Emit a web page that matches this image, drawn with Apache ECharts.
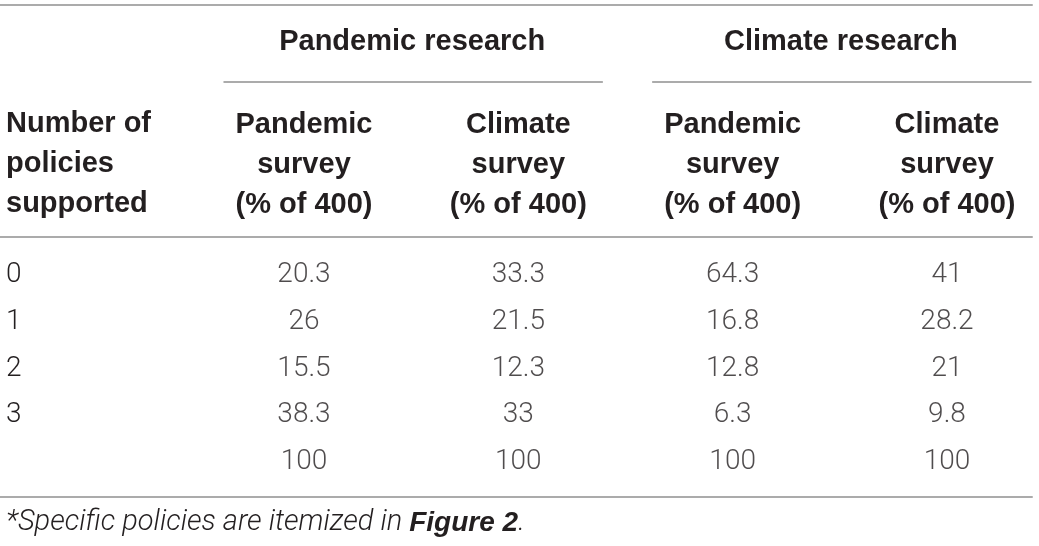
<!DOCTYPE html>
<html>
<head>
<meta charset="utf-8">
<script src="https://cdn.jsdelivr.net/npm/echarts@6/dist/echarts.min.js"></script>
<style>
html, body { margin: 0; padding: 0; background: #fff; }
#main { width: 1039px; height: 546px; }
</style>
</head>
<body>
<div id="main"></div>
<script>
// table contents
var rowLabels = ['0', '1', '2', '3', ''];
var stubHead = 'Number of\npolicies\nsupported';
var groupHeads = ['Pandemic research', 'Climate research'];
var colHeads = [
  'Pandemic\nsurvey\n(% of 400)',
  'Climate\nsurvey\n(% of 400)',
  'Pandemic\nsurvey\n(% of 400)',
  'Climate\nsurvey\n(% of 400)'
];
var pandemicResPandemicSurvey = [20.3, 26, 15.5, 38.3, 100];
var pandemicResClimateSurvey = [33.3, 21.5, 12.3, 33, 100];
var climateResPandemicSurvey = [64.3, 16.8, 12.8, 6.3, 100];
var climateResClimateSurvey = [41, 28.2, 21, 9.8, 100];
var footText = '*Specific policies are itemized in ';
var footRef = 'Figure 2';

var columns = [pandemicResPandemicSurvey, pandemicResClimateSurvey, climateResPandemicSurvey, climateResClimateSurvey];

var ink = '#231f20';
var ruleColor = '#8f8f8f';
var boldFont = 'Liberation Sans';
var lightFont = 'Roboto';

var toCells = function (col, c) {
  var res = [];
  for (var i = 0; i < col.length; i++) {
    res.push([c, i, col[i]]);
  }
  return res;
};

var series = [];
for (var c = 0; c < columns.length; c++) {
  series.push({
    type: 'scatter',
    silent: true,
    symbolSize: 1,
    itemStyle: { color: 'transparent' },
    label: {
      show: true,
      position: 'inside',
      formatter: function (p) { return String(p.value[2]); },
      fontFamily: lightFont,
      fontWeight: 300,
      fontSize: 28,
      color: ink
    },
    data: toCells(columns[c], c)
  });
}

var chart = echarts.init(document.getElementById('main'));

chart.setOption({
  animation: false,
  backgroundColor: '#fff',
  grid: { left: 304, right: 92, top: 275, bottom: 84, outerBoundsMode: 'none' },
  xAxis: {
    type: 'value',
    min: 0,
    max: 3,
    interval: 1,
    position: 'top',
    axisLine: { show: false },
    axisTick: { show: false },
    splitLine: { show: false },
    axisLabel: {
      showMinLabel: true,
      showMaxLabel: true,
      hideOverlap: false,
      margin: 50,
      fontFamily: boldFont,
      fontWeight: 'bold',
      fontSize: 29,
      lineHeight: 40,
      color: ink,
      formatter: function (v) { return colHeads[Math.round(v)] || ''; }
    }
  },
  yAxis: {
    type: 'value',
    min: 0,
    max: 4,
    interval: 1,
    inverse: true,
    axisLine: { show: false },
    axisTick: { show: false },
    splitLine: { show: false },
    axisLabel: {
      showMinLabel: true,
      showMaxLabel: true,
      align: 'left',
      margin: 298,
      fontFamily: lightFont,
      fontWeight: 300,
      fontSize: 28,
      color: ink,
      formatter: function (v) { return rowLabels[Math.round(v)] || ''; }
    }
  },
  series: series
});

// headers and rules, placed from the axis scale
var px = function (v) { return chart.convertToPixel({ xAxisIndex: 0 }, v); };
var step = px(1) - px(0);
var half = step * 0.885;
var rightEdge = px(3) + step * 0.4;

var rule = function (x1, x2, y) {
  return { type: 'line', shape: { x1: x1, y1: y, x2: x2, y2: y }, style: { stroke: ruleColor, lineWidth: 1.5 } };
};

var graphics = [
  rule(0, rightEdge, 5),
  rule(0, rightEdge, 237),
  rule(0, rightEdge, 497),
  {
    type: 'text', x: 6, y: 164,
    style: { text: stubHead, font: 'bold 29px ' + boldFont, lineHeight: 40, fill: ink, verticalAlign: 'middle', align: 'left' }
  },
  {
    type: 'text', x: 6, y: 523,
    style: {
      text: '{i|' + footText + '}{b|' + footRef + '}{i|.}',
      verticalAlign: 'middle',
      rich: {
        i: { fontFamily: lightFont, fontWeight: 300, fontStyle: 'italic', fontSize: 29, fill: ink },
        b: { fontFamily: boldFont, fontWeight: 'bold', fontStyle: 'italic', fontSize: 28, fill: ink }
      }
    }
  }
];
for (var g = 0; g < groupHeads.length; g++) {
  var cx = px(g * 2 + 0.5);
  graphics.push(rule(cx - half + 2, cx + half + 2, 82));
  graphics.push({
    type: 'text', x: cx + 1, y: 42,
    style: { text: groupHeads[g], font: 'bold 29px ' + boldFont, fill: ink, align: 'center', verticalAlign: 'middle' }
  });
}

chart.setOption({ graphic: graphics });
</script>
</body>
</html>
